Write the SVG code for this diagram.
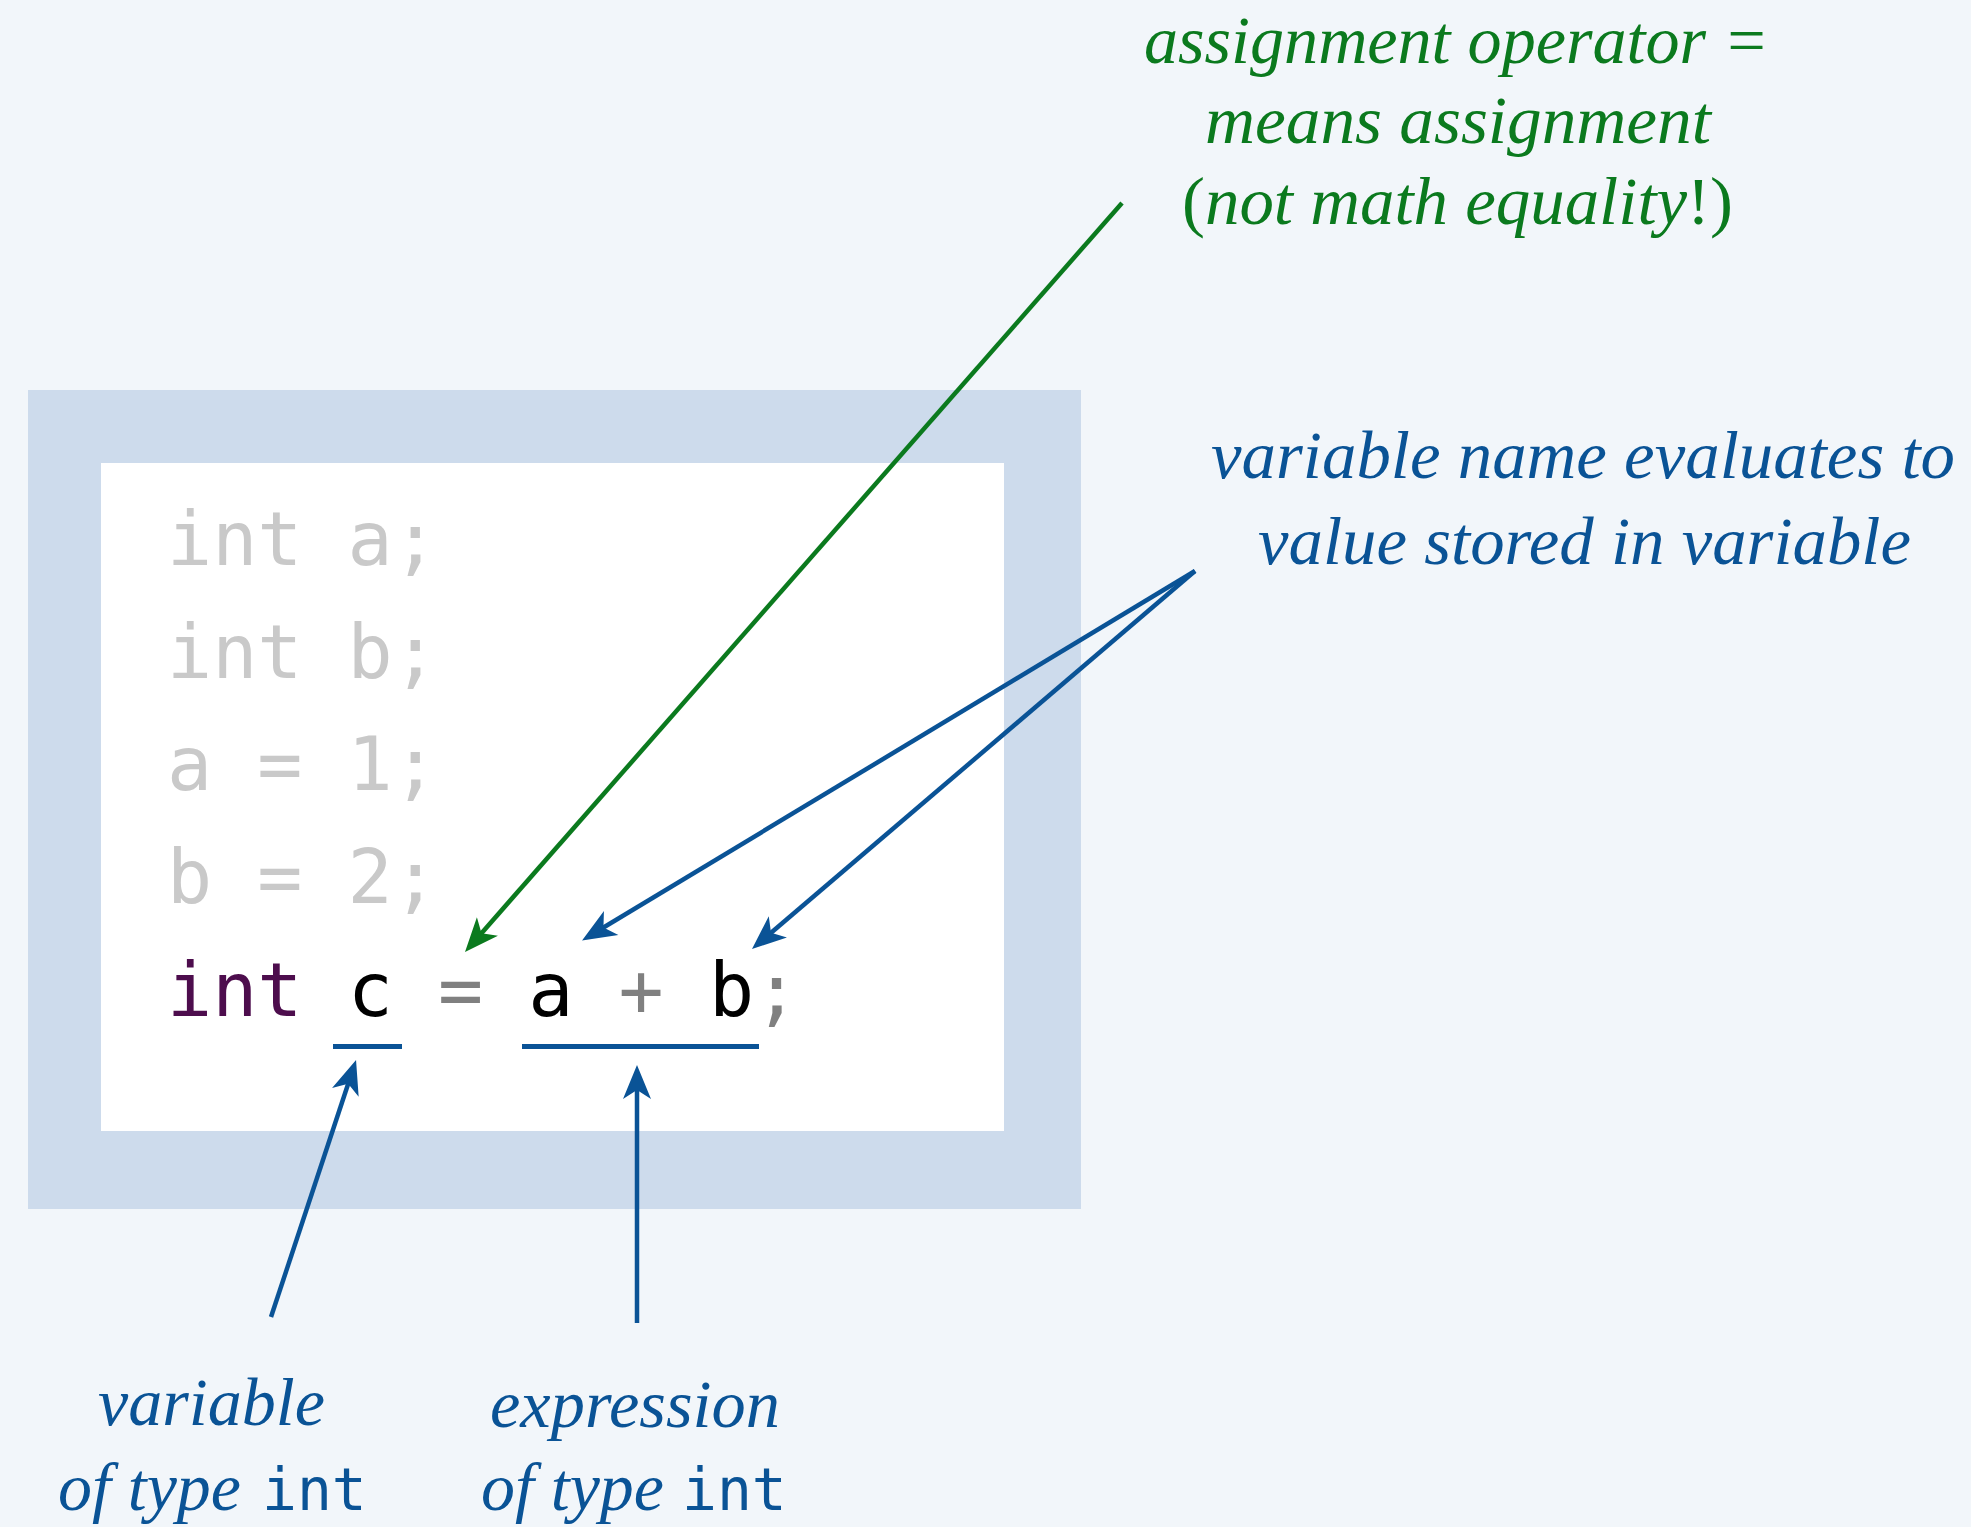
<svg xmlns="http://www.w3.org/2000/svg" width="1971" height="1527" viewBox="0 0 1971 1527">
<defs>
<style>
.code{font-family:"DejaVu Sans Mono","Liberation Mono",monospace;font-size:75px;white-space:pre}
.dim{fill:#c9c9c9}
.lbl{font-family:"Liberation Serif","DejaVu Serif",serif;font-style:italic;font-size:68px}
.up{font-style:normal}
.mono{font-family:"DejaVu Sans Mono","Liberation Mono",monospace;font-size:58px}
.g{fill:#0b7a1e}
.b{fill:#0a5396}
.gl{stroke:#0b7a1e;stroke-width:4.5;fill:none}
.bl{stroke:#0a5396;stroke-width:4.5;fill:none}
</style>
<marker id="ag" viewBox="-44 -16 48 32" refX="-10" refY="0" markerWidth="48" markerHeight="32" markerUnits="userSpaceOnUse" orient="auto">
<path d="M0,0 L-34,-14 L-25,0 L-34,14 Z" fill="#0b7a1e"/>
</marker>
<marker id="ab" viewBox="-44 -16 48 32" refX="-10" refY="0" markerWidth="48" markerHeight="32" markerUnits="userSpaceOnUse" orient="auto">
<path d="M0,0 L-34,-14 L-25,0 L-34,14 Z" fill="#0a5396"/>
</marker>
</defs>
<rect width="1971" height="1527" fill="#f2f6fa"/>
<g id="frame">
<rect x="28" y="390" width="1053" height="819" fill="#cddbec"/>
<rect x="101" y="463" width="903" height="668" fill="#ffffff"/>
</g>
<g id="code">
<text class="code dim" x="167" y="565">int a;</text>
<text class="code dim" x="167" y="678">int b;</text>
<text class="code dim" x="167" y="790">a = 1;</text>
<text class="code dim" x="167" y="903">b = 2;</text>
<text class="code" x="167" y="1016"><tspan fill="#4d0d4d">int</tspan> <tspan fill="#000">c</tspan> <tspan fill="#808080">=</tspan> <tspan fill="#000">a</tspan> <tspan fill="#808080">+</tspan> <tspan fill="#000">b</tspan><tspan fill="#808080">;</tspan></text>
</g>
<g id="underlines">
<rect x="333" y="1044" width="69" height="5" fill="#0a5396"/>
<rect x="522" y="1044" width="237" height="5" fill="#0a5396"/>
</g>
<g id="connectors">
<line class="gl" x1="1122" y1="203" x2="471.6" y2="944.5" marker-end="url(#ag)"/>
<line class="bl" x1="1195" y1="571" x2="590.6" y2="935.3" marker-end="url(#ab)"/>
<line class="bl" x1="1195" y1="571" x2="759.6" y2="942.5" marker-end="url(#ab)"/>
<line class="bl" x1="271" y1="1317" x2="352.9" y2="1069.5" marker-end="url(#ab)"/>
<line class="bl" x1="637" y1="1323" x2="637" y2="1075" marker-end="url(#ab)"/>
</g>
<g id="label-assignment">
<text class="lbl g" x="1144" y="63" textLength="625" lengthAdjust="spacingAndGlyphs">assignment operator =</text>
<text class="lbl g" x="1205" y="143" textLength="506" lengthAdjust="spacingAndGlyphs">means assignment</text>
<text class="lbl g" x="1182" y="224" textLength="551" lengthAdjust="spacingAndGlyphs"><tspan class="up">(</tspan>not math equality<tspan class="up">!)</tspan></text>
</g>
<g id="label-varname">
<text class="lbl b" x="1211" y="478" textLength="744" lengthAdjust="spacingAndGlyphs">variable name evaluates to</text>
<text class="lbl b" x="1258" y="564" textLength="653" lengthAdjust="spacingAndGlyphs">value stored in variable</text>
</g>
<g id="label-variable">
<text class="lbl b" x="98" y="1425" textLength="227" lengthAdjust="spacingAndGlyphs">variable</text>
<text class="lbl b" x="58" y="1510" textLength="183" lengthAdjust="spacingAndGlyphs">of type</text>
<text class="mono b" x="262" y="1510">int</text>
</g>
<g id="label-expression">
<text class="lbl b" x="490" y="1427" textLength="290" lengthAdjust="spacingAndGlyphs">expression</text>
<text class="lbl b" x="481" y="1510" textLength="183" lengthAdjust="spacingAndGlyphs">of type</text>
<text class="mono b" x="682" y="1510">int</text>
</g>
</svg>
